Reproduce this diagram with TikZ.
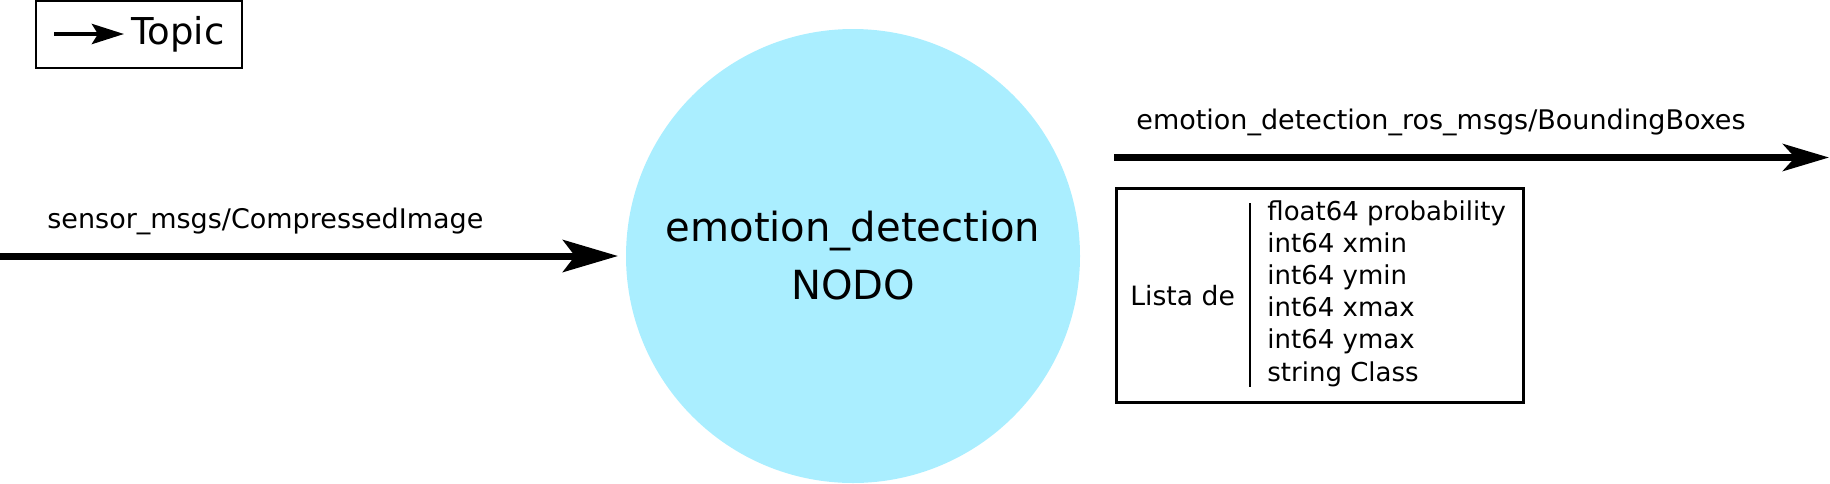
\documentclass[tikz,border=0pt]{standalone}
\usepackage{fontspec}
\setmainfont{DejaVu Sans}
\usetikzlibrary{arrows.meta}
\definecolor{nodecyan}{HTML}{AAEEFF}
\tikzset{
  topicbig/.style={line width=3.5pt, -{Stealth[length=27.5pt, width=16pt, inset=6pt]}},
  topicsmall/.style={line width=3.5pt, -{Stealth[length=23pt, width=13.5pt, inset=6pt]}},
  labeltxt/.style={anchor=base west, inner sep=0pt, font=\fontsize{13.5}{16}\selectfont},
  listtxt/.style={anchor=base west, inner sep=0pt, font=\fontsize{13}{16}\selectfont}
}

\begin{document}
\begin{tikzpicture}[x=0.5pt, y=-0.5pt]
			%%%%% START %%%%%
			\useasboundingbox (0, 0) rectangle (1830, 483);
			
			% legend
			\node[draw, line width=1pt, minimum width=103pt, minimum height=33.5pt, inner sep=0pt] (legend) at (139, 34.5) {};
			\coordinate (keyfrom) at (54, 34);
			\coordinate (keyto) at (124, 34);
			\draw[line width=2.2pt, -{Stealth[length=16pt, width=10pt, inset=3pt]}] (keyfrom) -- (keyto);
			\node[anchor=base west, inner sep=0pt, font=\fontsize{18.5}{22}\selectfont] (topic) at (131, 44) {Topic};
			
			% the node
			\node[circle, fill=nodecyan, minimum size=227pt, inner sep=0pt, outer sep=0pt,
			      align=center, font=\fontsize{20.05}{29}\selectfont] (nodo) at (853, 256) {emotion\_detection\\NODO};
			
			% input topic
			\coordinate (src) at (0, 256);
			\draw[topicbig, shorten >=4pt] (src) -- (nodo);
			\node[labeltxt] (intopic) at (47, 228) {sensor\_msgs/CompressedImage};
			
			% output topic
			\coordinate (outfrom) at (1114, 157.5);
			\coordinate (outto) at (1829, 157.5);
			\draw[topicsmall] (outfrom) -- (outto);
			\node[labeltxt] (outtopic) at (1136, 129) {emotion\_detection\_ros\_msgs/BoundingBoxes};
			
			% message box
			\node[draw, line width=1.5pt, minimum width=203.5pt, minimum height=107pt, inner sep=0pt] (msgbox) at (1319.5, 295) {};
			\draw[line width=1.25pt] (1250, 203) -- (1250, 387);
			\node[listtxt, font=\fontsize{13.3}{16}\selectfont] (lista) at (1130, 305) {Lista de};
			\foreach \txt [count=\i from 0] in {float64 probability, int64 xmin, int64 ymin, int64 xmax, int64 ymax, string Class}
			  \node[listtxt] (field\i) at (1267, 220 + 32.2*\i) {\txt};
			
			%%%%% END %%%%%
		\end{tikzpicture}
\end{document}
